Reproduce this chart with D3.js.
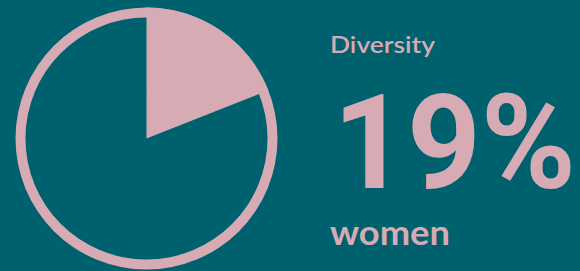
<!doctype html>
<html>
<head>
    <script src="https://d3js.org/d3.v7.min.js"></script>
    <style>
        body { margin: 0; background: #00616e; }
        #board { display: block; }
        .label { fill: #d7abb3; font-family: Lato, "Open Sans", sans-serif; }
        .big { font-family: Roboto, Lato, sans-serif; }
    </style>
</head>
<body>
<svg id="board" width="580" height="271"></svg>
<script>
var categories = ["women", "men"];
var values = [19, 81];
var title = "Diversity";
var bigLabel = "19%";
var subLabel = "women";

var pink = "#d7abb3";
var teal = "#00616e";

var svg = d3.select("#board");
svg.append("rect").attr("width", 580).attr("height", 271).attr("fill", teal);

var cx = 146.5, cy = 138.5, rOuter = 131, ringW = 10;

var pie = d3.pie().sort(null).value(function(d) { return d; });
var arcs = pie(values);

var g = svg.append("g").attr("transform", "translate(" + cx + "," + cy + ")");

// outer ring
g.append("path")
    .attr("d", d3.arc().innerRadius(rOuter - ringW).outerRadius(rOuter)({startAngle: 0, endAngle: 2 * Math.PI}))
    .attr("fill", pink);

// the slice for women
var arc = d3.arc().innerRadius(0).outerRadius(rOuter);
g.selectAll(".slice")
    .data(arcs.filter(function(d, i) { return categories[i] === "women"; }))
    .enter()
    .append("path")
    .attr("class", "slice")
    .attr("d", arc)
    .attr("fill", pink);

svg.append("text").attr("class", "label")
    .attr("x", 330).attr("y", 53)
    .attr("font-size", 23).attr("font-weight", 600)
    .attr("textLength", 105).attr("lengthAdjust", "spacingAndGlyphs")
    .text(title);

svg.append("text").attr("class", "label big")
    .attr("x", 333).attr("y", 188)
    .attr("font-size", 132).attr("font-weight", 700)
    .attr("textLength", 243).attr("lengthAdjust", "spacingAndGlyphs")
    .text(bigLabel);

svg.append("text").attr("class", "label")
    .attr("x", 330).attr("y", 245)
    .attr("font-size", 34).attr("font-weight", 700)
    .attr("textLength", 120).attr("lengthAdjust", "spacingAndGlyphs")
    .text(subLabel);
</script>
</body>
</html>
